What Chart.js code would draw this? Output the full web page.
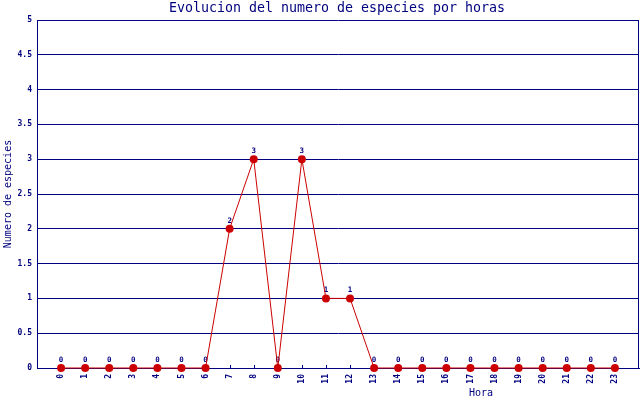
<!DOCTYPE html>
<html>
<head>
<meta charset="utf-8">
<script src="https://cdn.jsdelivr.net/npm/chart.js@4.4.1/dist/chart.umd.min.js"></script>
<style>
html,body{margin:0;padding:0;background:#fff;}
#wrap{width:640px;height:400px;}
</style>
</head>
<body>
<div id="wrap"><canvas id="c" width="640" height="400"></canvas></div>
<script>
const hours = [0,1,2,3,4,5,6,7,8,9,10,11,12,13,14,15,16,17,18,19,20,21,22,23];
const species = [0,0,0,0,0,0,0,2,3,0,3,1,1,0,0,0,0,0,0,0,0,0,0,0];
const yTicks = [0,0.5,1,1.5,2,2.5,3,3.5,4,4.5,5];
const titleText = 'Evolucion del numero de especies por horas';
const xTitle = 'Hora';
const yTitle = 'Numero de especies';

const NAVY = '#000080';
const RED = '#cc0000';
const MONO = '"DejaVu Sans Mono", "Liberation Mono", monospace';

const deco = {
  id: 'deco',
  beforeDatasetsDraw(chart) {
    const ctx = chart.ctx;
    const meta = chart.getDatasetMeta(0);
    ctx.save();
    ctx.fillStyle = NAVY;
    ctx.font = 'bold 7.5px ' + MONO;
    ctx.textAlign = 'center';
    ctx.textBaseline = 'alphabetic';
    meta.data.forEach((pt, i) => {
      ctx.fillText(String(species[i]), pt.x, pt.y - 6);
    });
    const xs = chart.scales.x;
    const a = chart.chartArea;
    ctx.strokeStyle = NAVY;
    ctx.lineWidth = 1;
    hours.forEach(h => {
      const px = Math.round(xs.getPixelForValue(h)) + 0.5;
      ctx.beginPath();
      ctx.moveTo(px, a.bottom);
      ctx.lineTo(px, a.bottom - 3);
      ctx.stroke();
    });
    ctx.restore();
  },
  afterDraw(chart) {
    const ctx = chart.ctx;
    const a = chart.chartArea;
    ctx.save();
    ctx.strokeStyle = NAVY;
    ctx.lineWidth = 1;
    ctx.beginPath();
    ctx.moveTo(a.right - 0.5, a.top);
    ctx.lineTo(a.right - 0.5, a.bottom);
    ctx.stroke();
    ctx.fillStyle = NAVY;
    ctx.font = '13.3px ' + MONO;
    ctx.textAlign = 'center';
    ctx.textBaseline = 'middle';
    ctx.fillText(titleText, 337, 9);
    ctx.font = '10px ' + MONO;
    ctx.fillText(xTitle, 481, 393);
    ctx.translate(8, (a.top + a.bottom) / 2);
    ctx.rotate(-Math.PI / 2);
    ctx.fillText(yTitle, 0, 0);
    ctx.restore();
  }
};

new Chart(document.getElementById('c'), {
  type: 'line',
  data: {
    datasets: [{
      data: hours.map((h, i) => ({x: h, y: species[i]})),
      borderColor: RED,
      borderWidth: 1,
      backgroundColor: RED,
      pointBackgroundColor: RED,
      pointBorderColor: RED,
      pointRadius: 4,
      pointBorderWidth: 0,
      tension: 0,
      fill: false,
      clip: false
    }]
  },
  options: {
    responsive: false,
    animation: false,
    devicePixelRatio: 1,
    layout: {autoPadding: false, padding: {top: 20, right: 1, left: 0, bottom: 0}},
    plugins: {legend: {display: false}, tooltip: {enabled: false}, title: {display: false}},
    scales: {
      x: {
        type: 'linear',
        min: -1,
        max: 24,
        afterFit: s => { s.height = 32; s.paddingLeft = 0; s.paddingRight = 0; },
        afterBuildTicks: s => { s.ticks = [-1].concat(hours, [24]).map(v => ({value: v})); },
        grid: {display: false, drawTicks: false},
        border: {color: NAVY, width: 1},
        ticks: {
          autoSkip: false,
          maxRotation: 90,
          minRotation: 90,
          padding: 6,
          color: NAVY,
          font: {family: MONO, size: 8, weight: 'bold'},
          callback: v => (hours.includes(v) ? String(v) : '')
        }
      },
      y: {
        min: 0,
        max: 5,
        afterFit: s => { s.width = 37; s.paddingTop = 0; s.paddingBottom = 0; },
        afterBuildTicks: s => { s.ticks = yTicks.map(v => ({value: v})); },
        grid: {color: NAVY, lineWidth: 1, drawTicks: false},
        border: {color: NAVY, width: 1},
        ticks: {
          padding: 5,
          color: NAVY,
          font: {family: MONO, size: 8, weight: 'bold'},
          callback: v => String(v)
        }
      }
    }
  },
  plugins: [deco]
});
</script>
</body>
</html>
